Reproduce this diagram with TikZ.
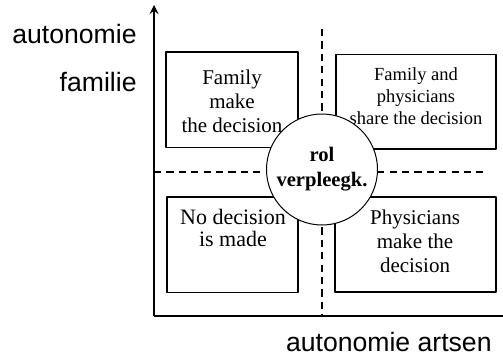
\documentclass[tikz,border=0pt]{standalone}
\usepackage{fontspec}
\setmainfont{Liberation Serif}
\setsansfont{Liberation Sans}

\begin{document}
\begin{tikzpicture}[>=stealth,line join=round,x=0.5pt,y=-0.5pt,
	vak/.style={draw,line width=0.7pt,inner sep=0pt},
	tekst/.style={align=center,inner sep=0pt},
	as/.style={font=\sffamily\fontsize{13.3}{16}\selectfont,inner sep=0pt},
	streep/.style={line width=0.65pt,dash pattern=on 3.6pt off 2.6pt}]
	\useasboundingbox (0,0) rectangle (503,358);
	% assen
	\coordinate (O) at (154,316);
	\coordinate (ytop) at (154,5);
	\coordinate (xeind) at (503,316);
	\draw[streep] (322,29) coordinate (vboven) -- (322,316) coordinate (vonder);
	\draw[streep] (154,172) coordinate (hlinks) -- (483,172) coordinate (hrechts);
	\draw[line width=1pt,->] (O)--(ytop);
	\draw[line width=1pt] (O)--(xeind);
	\node[as,anchor=base east] (ya) at (137,43.5) {autonomie};
	\node[as,anchor=base east] (yb) at (137,91.5) {familie};
	\node[as,anchor=base east] (xa) at (492,351.5) {autonomie artsen};
	% vakken
	\node[vak,minimum width=66pt,minimum height=47.75pt] (fam) at (232,99.75) {};
	\node[vak,minimum width=80pt,minimum height=47.25pt] (samen) at (416,101.75) {};
	\node[vak,minimum width=65.5pt,minimum height=47.75pt] (geen) at (232.5,244.75) {};
	\node[vak,minimum width=80.5pt,minimum height=47.5pt] (arts) at (415.5,244.5) {};
	\node[tekst,font=\fontsize{10.5}{12}\selectfont] (tfam) at (232,101) {Family\\make\\the decision};
	\node[tekst,font=\fontsize{9.25}{11}\selectfont] (tsamen) at (416,96) {Family and\\physicians\\share the decision};
	\node[tekst,font=\fontsize{11}{11}\selectfont] (tgeen) at (233,228) {No decision\\is made};
	\node[tekst,font=\fontsize{10.5}{12}\selectfont] (tarts) at (415,241) {Physicians\\make the\\decision};
	% rol
	\node[circle,draw,fill=white,line width=0.5pt,minimum size=55.5pt,inner sep=0pt] (rol) at (322,169.5) {};
	\node[tekst,font=\bfseries\fontsize{10.3}{12.5}\selectfont] (trol) at (rol) {rol\\verpleegk.};
\end{tikzpicture}
\end{document}
